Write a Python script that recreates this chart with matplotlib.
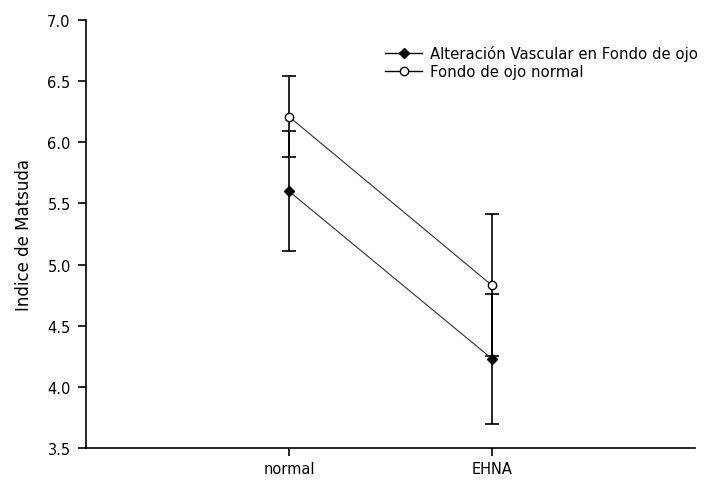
import matplotlib.pyplot as plt
from matplotlib.lines import Line2D
import numpy as np

plt.rcParams["font.family"] = ["DejaVu Sans"]
plt.rcParams["font.size"] = 10

groups = ["normal", "EHNA"]
alterado_mean = [5.60, 4.23]
alterado_err = [0.49, 0.53]
normal_mean = [6.21, 4.83]
normal_err = [0.33, 0.58]
yticks = [3.5, 4.0, 4.5, 5.0, 5.5, 6.0, 6.5, 7.0]
labels = ["Alteración Vascular en Fondo de ojo", "Fondo de ojo normal"]

x = np.arange(1, len(groups) + 1)

fig = plt.figure(figsize=(7.08, 4.81), dpi=100)
ax = fig.add_axes([0.1215, 0.0665, 0.86, 0.8898])

err_kw = dict(ecolor="black", elinewidth=1.2, capsize=4.7, capthick=1.2)
ax.errorbar(x, alterado_mean, yerr=alterado_err, color="#303030", lw=0.8,
            marker="D", ms=5.5, mfc="black", mec="black", **err_kw)
ax.errorbar(x, normal_mean, yerr=normal_err, color="#303030", lw=0.8,
            marker="o", ms=6, mfc="white", mec="black", **err_kw)

ax.set_xlim(0, 3)
ax.set_ylim(3.5, 7.0)
ax.set_xticks(x)
ax.set_xticklabels(groups)
ax.set_yticks(yticks)
ax.set_yticklabels([f"{v:.1f}" for v in yticks])
ax.set_ylabel("Indice de Matsuda", fontsize=12, labelpad=10)

for side in ("top", "right"):
    ax.spines[side].set_visible(False)
for side in ("left", "bottom"):
    ax.spines[side].set_linewidth(1.2)
ax.tick_params(direction="out", length=6, width=1.2, pad=5, labelsize=10.5)
ax.tick_params(axis="x", pad=3)

handles = [
    Line2D([], [], color="black", lw=1.0, marker="D", ms=5, mfc="black", mec="black"),
    Line2D([], [], color="black", lw=1.0, marker="o", ms=6, mfc="white", mec="black"),
]
fig.legend(handles, labels, loc="upper left", bbox_to_anchor=(385 / 708, 1 - 46 / 481),
           frameon=False, fontsize=10.7, handlelength=2.5, handletextpad=0.55,
           labelspacing=0.2, borderpad=0, borderaxespad=0)

fig.savefig("out.png", dpi=100)
